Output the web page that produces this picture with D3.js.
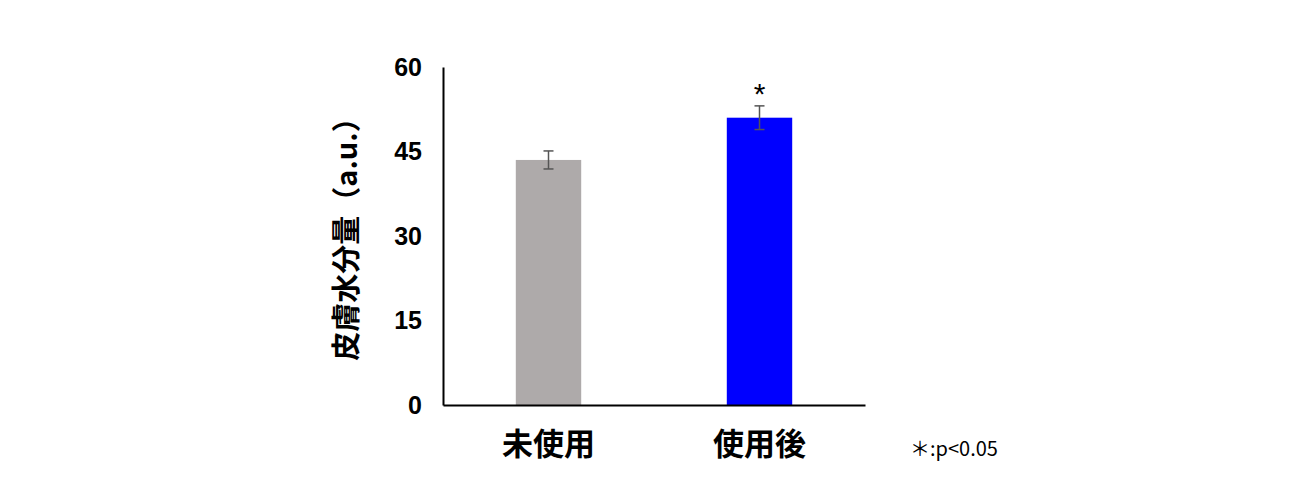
<!DOCTYPE html>
<html>
<head>
<meta charset="utf-8">
<script src="https://cdn.jsdelivr.net/npm/d3@7"></script>
<style>
  body { margin: 0; background: #fff; }
  svg text { font-family: "Liberation Sans", "Noto Sans CJK JP", sans-serif; }
</style>
</head>
<body>
<div id="chart"></div>
<script>
const categories = ["未使用", "使用後"];
const values = [43.5, 51.0];
const errors = [1.6, 2.1];
const barColors = ["#aeaaaa", "#0000ff"];
const significance = ["", "*"];
const yTicks = [0, 15, 30, 45, 60];

const dim = { width: 1294, height: 502 };
const margin = { top: 67, left: 443, right: 429, bottom: 97 };

const svg = d3.select("#chart").append("svg")
    .attr("width", dim.width)
    .attr("height", dim.height);

const yScale = d3.scaleLinear()
    .domain([0, 60])
    .range([dim.height - margin.bottom, margin.top]);

const xScale = d3.scaleBand()
    .domain(categories)
    .range([margin.left, dim.width - margin.right])
    .paddingInner(0.69)
    .paddingOuter(0.345);

// bars
svg.selectAll(".bar")
    .data(categories)
    .enter().append("rect")
    .attr("class", "bar")
    .attr("x", d => xScale(d))
    .attr("y", (d, i) => yScale(values[i]))
    .attr("width", xScale.bandwidth())
    .attr("height", (d, i) => yScale(0) - yScale(values[i]))
    .attr("fill", (d, i) => barColors[i]);

// error bars
const err = svg.selectAll(".err")
    .data(categories)
    .enter().append("g")
    .attr("class", "err")
    .attr("stroke", "#555")
    .attr("stroke-width", 1.5);

const cx = d => xScale(d) + xScale.bandwidth() / 2;
err.append("line")
    .attr("x1", cx).attr("x2", cx)
    .attr("y1", (d, i) => yScale(values[i] + errors[i]))
    .attr("y2", (d, i) => yScale(values[i] - errors[i]));
err.append("line")
    .attr("x1", d => cx(d) - 5).attr("x2", d => cx(d) + 5)
    .attr("y1", (d, i) => yScale(values[i] + errors[i]))
    .attr("y2", (d, i) => yScale(values[i] + errors[i]));
err.append("line")
    .attr("x1", d => cx(d) - 5).attr("x2", d => cx(d) + 5)
    .attr("y1", (d, i) => yScale(values[i] - errors[i]))
    .attr("y2", (d, i) => yScale(values[i] - errors[i]));

// significance marks
svg.selectAll(".sig")
    .data(categories)
    .enter().append("text")
    .attr("class", "sig")
    .attr("x", cx)
    .attr("y", (d, i) => yScale(values[i] + errors[i]) - 2)
    .attr("text-anchor", "middle")
    .attr("font-size", 30)
    .text((d, i) => significance[i]);

// y axis
const yAxis = svg.append("g")
    .attr("class", "yAxis")
    .attr("transform", `translate(${margin.left},0)`)
    .call(d3.axisLeft(yScale).tickValues(yTicks).tickSize(0).tickPadding(21));
yAxis.select(".domain").attr("stroke", "#000").attr("stroke-width", 2);
yAxis.selectAll("text")
    .attr("font-size", 25)
    .attr("font-weight", "bold")
    .attr("fill", "#000")
    .style("font-family", "'Liberation Sans', sans-serif");

// x axis
const xAxis = svg.append("g")
    .attr("class", "xAxis")
    .attr("transform", `translate(0,${yScale(0)})`)
    .call(d3.axisBottom(xScale).tickSize(0).tickPadding(28));
xAxis.select(".domain").attr("stroke", "#000").attr("stroke-width", 2);
xAxis.selectAll("text")
    .attr("font-size", 31)
    .attr("font-weight", "bold")
    .attr("fill", "#000")
    .style("font-family", "'Noto Sans CJK JP', sans-serif");

// y label
svg.append("text")
    .attr("transform", `translate(357,232) rotate(-90)`)
    .attr("text-anchor", "middle")
    .attr("font-size", 29)
    .attr("font-weight", "bold")
    .style("font-family", "'Noto Sans CJK JP', sans-serif")
    .text("皮膚水分量（a.u.）");

// footnote
svg.append("text")
    .attr("x", 910)
    .attr("y", 456)
    .attr("font-size", 20)
    .style("font-family", "'Noto Sans CJK JP', sans-serif")
    .text("＊:p<0.05");
</script>
</body>
</html>
